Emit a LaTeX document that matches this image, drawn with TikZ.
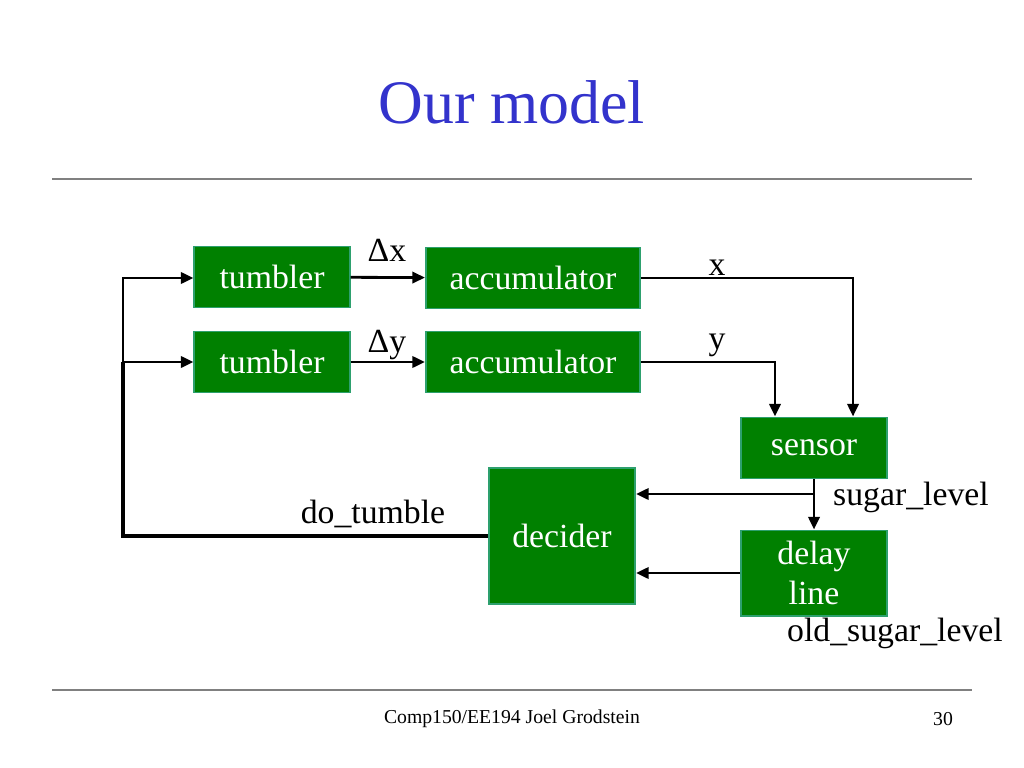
\documentclass[tikz,border=0pt]{standalone}
\usepackage{fontspec}
\setmainfont{Liberation Serif}
\usetikzlibrary{arrows.meta,positioning}
\definecolor{boxgreen}{RGB}{0,128,0}
\definecolor{boxedge}{RGB}{45,160,110}
\definecolor{titleblue}{RGB}{51,51,204}
\tikzset{
  block/.style={draw=boxedge, line width=1.4pt, fill=boxgreen, text=white,
    font=\fontsize{24}{29}\selectfont, align=center, inner sep=0pt},
  wire/.style={line width=2pt, -{Triangle[length=9pt,width=8pt]}},
  lbl/.style={font=\fontsize{24}{29}\selectfont, inner sep=0pt},
}
\begin{document}
\begin{tikzpicture}[x=0.025cm, y=-0.025cm]
  \useasboundingbox (0,0) rectangle (1024,768);

  % Title and rules
  \node[text=titleblue, font=\fontsize{44}{50}\selectfont] (title) at (512,102) {Our model};
  \draw[gray, line width=0.8pt] (52,179) -- (972,179);
  \draw[gray, line width=0.8pt] (52,690) -- (972,690);

  % Blocks
  \node[block, minimum width=3.875cm, minimum height=1.525cm] (tumbler1) at (272,277) {tumbler};
  \node[block, minimum width=3.875cm, minimum height=1.525cm] (tumbler2) at (272,362) {tumbler};
  \node[block, minimum width=5.35cm, minimum height=1.525cm] (acc1) at (533,278) {accumulator};
  \node[block, minimum width=5.35cm, minimum height=1.525cm] (acc2) at (533,362) {accumulator};
  \node[block, minimum width=3.65cm, minimum height=1.525cm] (sensor) at (814,448) {sensor};
  \node[block, minimum width=3.65cm, minimum height=3.4cm] (decider) at (562,536) {decider};
  \node[block, minimum width=3.65cm, minimum height=2.125cm] (delay) at (814,573) {delay\\line};

  % Signal labels
  \node[lbl] (dx) at (387,250) {Δx};
  \node[lbl] (dy) at (387,345) {Δy};
  \node[lbl] (xlbl) at (717,268) {x};
  \node[lbl] (ylbl) at (717,345) {y};
  \node[lbl] (sugar) at (911,497) {sugar\_level};
  \node[lbl] (oldsugar) at (895,633) {old\_sugar\_level};
  \node[lbl] (dotumble) at (373,514) {do\_tumble};

  % Arrows
  \draw[wire] (tumbler1) -- (acc1);
  \draw[wire] (tumbler2) -- (acc2);
  \draw[wire] (acc1.east) -| ([xshift=0.975cm]sensor.north);
  \draw[wire] (acc2.east) -| ([xshift=-0.975cm]sensor.north);
  \coordinate (split) at (814,494);
  \draw[wire] (sensor) -- (delay);
  \draw[wire] (split) -- (split -| decider.east);
  \draw[wire] (delay.west) -- (delay.west -| decider.east);

  % Feedback to tumblers
  \coordinate (bus) at (123,362);
  \coordinate (bustop) at (123,278);
  \draw[line width=3pt] (decider.west) -| (bus);
  \draw[wire] (bus) -- (tumbler2.west);
  \draw[wire] (bus) -- (bustop) -- (tumbler1.west |- bustop);

  % Footer
  \node[font=\fontsize{14}{16}\selectfont] (footer) at (512,719) {Comp150/EE194 Joel Grodstein};
  \node[font=\fontsize{14}{16}\selectfont] (page) at (943,719) {30};
\end{tikzpicture}
\end{document}
